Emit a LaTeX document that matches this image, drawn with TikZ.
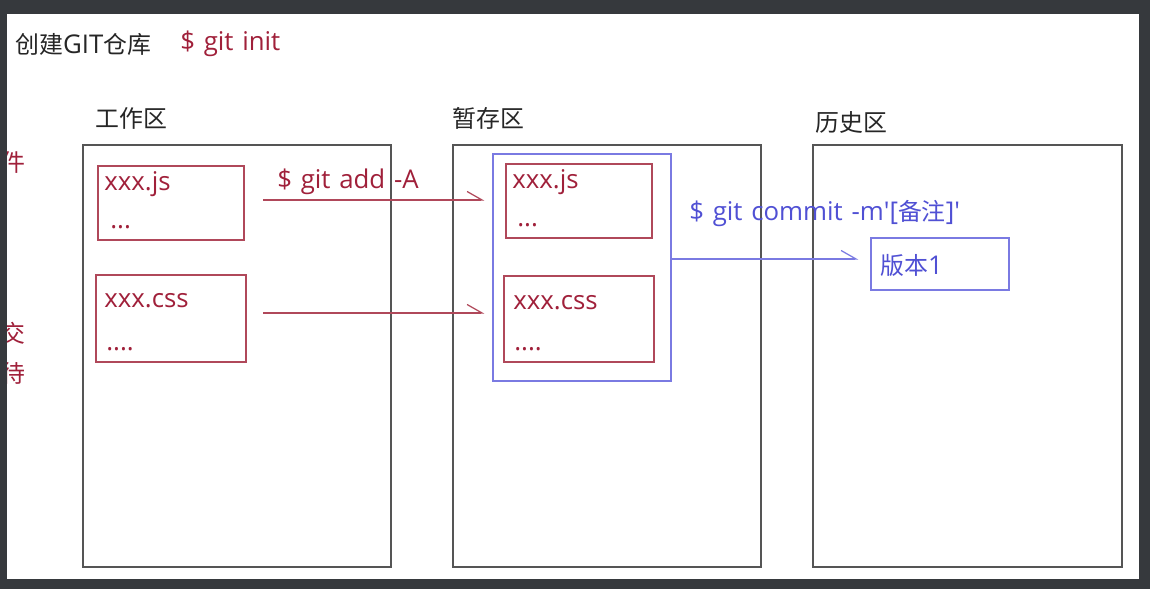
\documentclass[tikz,border=0pt]{standalone}
\usepackage{fontspec}
\setmainfont{Open Sans}[Scale=1.08, WordSpace=1.3]
\newfontfamily\cjk{Noto Sans CJK SC}
\usepackage{tikz}
\usetikzlibrary{arrows.meta}
\definecolor{frame}{HTML}{36393D}
\definecolor{areagray}{HTML}{555555}
\definecolor{filered}{HTML}{B0485A}
\definecolor{cmdred}{HTML}{A0203A}
\definecolor{cmdblue}{HTML}{5050D4}
\definecolor{boxblue}{HTML}{7A7AE2}

\begin{document}
\begin{tikzpicture}
        [x=0.02cm, y=-0.02cm,
        font=\fontsize{13.6}{16}\selectfont,
        area/.style={draw=areagray, line width=1.1pt, minimum width=6.16cm, minimum height=8.44cm},
        file/.style={draw=filered, line width=0.8pt, minimum width=2.92cm, minimum height=1.48cm},
        bigfile/.style={file, minimum width=3cm, minimum height=1.74cm},
        bluebox/.style={draw=boxblue, line width=0.7pt},
        txt/.style={anchor=west, inner sep=0pt},
        arr/.style={-{Straight Barb[harpoon, length=0.3cm, width=0.34cm]}, line width=0.7pt}]
        \useasboundingbox (0,0) rectangle (1150,589);
        \fill[frame] (0,0) rectangle (1150,589);
        \fill[white] (7,14) rectangle (1139,579);
        % cut-off text at the left edge
        \begin{scope}
          \clip (7,14) rectangle (1139,579);
          \node (cut1) at (13,162) [cmdred] {\cjk 件};
          \node (cut2) at (13,333) [cmdred] {\cjk 交};
          \node (cut3) at (13,373) [cmdred] {\cjk 待};
        \end{scope}
        \node (title) at (15,44) [txt, black!85] {{\cjk 创建}GIT{\cjk 仓库}};
        \node (init) at (180,44) [txt, cmdred] {\$ git init};
        % the three areas
        \node (work) at (237,356) [area] {};
        \node (stage) at (607,356) [area] {};
        \node (hist) at (967.5,356) [area, minimum width=6.18cm] {};
        \node (worklbl) at (95,118) [txt, black!85] {\cjk 工作区};
        \node (stagelbl) at (452,118) [txt, black!85] {\cjk 暂存区};
        \node (histlbl) at (815,122) [txt, black!85] {\cjk 历史区};
        % files in the working area
        \node (wjs) at (171,203) [file] {};
        \node (wcss) at (171,318.5) [bigfile] {};
        \node at (104,184) [txt, cmdred] {xxx.js};
        \node at (110,227) [txt, cmdred] {...};
        \node at (104,301) [txt, cmdred] {xxx.css};
        \node at (106,349) [txt, cmdred] {....};
        % files in the staging area
        \node (stg) at (582,267.5) [bluebox, minimum width=3.56cm, minimum height=4.54cm] {};
        \node (sjs) at (579,201) [file] {};
        \node (scss) at (579,319) [bigfile, minimum height=1.72cm] {};
        \node at (512,182) [txt, cmdred] {xxx.js};
        \node at (517,225) [txt, cmdred] {...};
        \node at (513,303) [txt, cmdred] {xxx.css};
        \node at (514,349) [txt, cmdred] {....};
        % version in the history area
        \node (ver) at (940,264) [bluebox, minimum width=2.76cm, minimum height=1.04cm] {};
        \node at (880,265) [txt, cmdblue] {{\cjk 版本}1};
        % git add -A
        \coordinate (add1) at (263,200);
        \coordinate (add2) at (263,313);
        \draw[arr, filered, shorten >=0.16cm] (add1) -- (add1 -| stg.west);
        \draw[arr, filered, shorten >=0.16cm] (add2) -- (add2 -| stg.west);
        \node (addlbl) at (277,182) [txt, cmdred] {\$ git add -A};
        % git commit
        \coordinate (com) at (stg.east |- 0,259);
        \draw[arr, boxblue, shorten >=0.24cm] (com) -- (com -| ver.west);
        \node (comlbl) at (689,214) [txt, cmdblue] {\$ git commit -m\textquotesingle[{\cjk 备注}]\textquotesingle};
     \end{tikzpicture}
\end{document}
